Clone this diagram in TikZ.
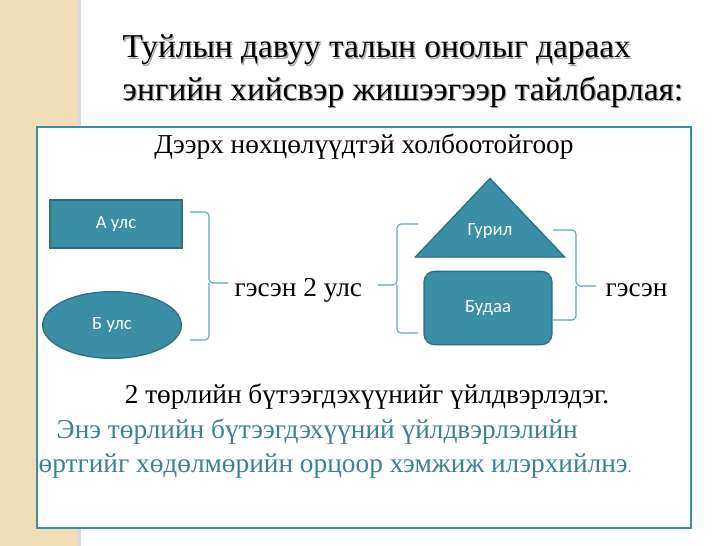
\documentclass[tikz,border=0pt]{standalone}
\usepackage{fontspec}
\setmainfont{Liberation Serif}
\newfontfamily\boxfont{Carlito}
\usetikzlibrary{shapes.geometric,positioning}
\definecolor{tealfill}{HTML}{3A8FA6}
\definecolor{tealedge}{HTML}{2F6F80}
\definecolor{tealtext}{HTML}{3A8290}
\definecolor{beige}{HTML}{F1DEB8}
\tikzset{
  shapebox/.style={fill=tealfill, draw=tealedge, line width=1pt, text=white, font=\boxfont\fontsize{14}{16}\selectfont},
  bracket/.style={draw=tealfill!80, line width=0.8pt, rounded corners=3pt},
  body/.style={font=\fontsize{20.5}{24}\selectfont},
}
\begin{document}
\begin{tikzpicture}[x=0.75pt,y=-0.75pt]
  \useasboundingbox (0,0) rectangle (728,546);
  % background strip and frame
  \fill[beige] (0,0) rectangle (80,546);
  \fill[black!15] (78,0) rectangle (81,546);
  \fill[white] (37,127) rectangle (691,528);
  \draw[tealfill, line width=1.5pt] (37,127) rectangle (691,528);

  % title with shadow
  \foreach \dx/\col in {1.2/black!35, 0/black} {
    \node[anchor=west, text=\col, font=\fontsize{25}{30}\selectfont] at (118+\dx,50+\dx) {Туйлын давуу талын онолыг дараах};
    \node[anchor=west, text=\col, font=\fontsize{25}{30}\selectfont] at (118+\dx,92+\dx) {энгийн хийсвэр жишээгээр тайлбарлая:};
  }

  \node[body] (cond) at (364,147) {Дээрх нөхцөлүүдтэй холбоотойгоор};

  % left group
  \node[shapebox, minimum width=99pt, minimum height=36pt] (countryA) at (116,224) {А улс};
  \node[shapebox, ellipse, minimum width=104pt, minimum height=50pt, inner sep=0pt] (countryB) at (112,325) {Б улс};
  \draw[bracket] (190,212) -- (209,212) -- (209,283) -- (228,283);
  \draw[bracket] (209,283) -- (209,340) -- (190,340);
  \node[body, anchor=west] (twoc) at (230,290) {гэсэн 2 улс};

  % right group
  \node[shapebox, isosceles triangle, shape border rotate=90, isosceles triangle apex angle=87,
        minimum width=112pt, minimum height=59pt, inner sep=0pt] (flour) at (490,225) {};
  \node[text=white, font=\boxfont\fontsize{14}{16}\selectfont] at (490,231) {Гурил};
  \node[shapebox, rounded corners=8pt, minimum width=96pt, minimum height=55pt] (grain) at (488,308) {Будаа};
  \draw[bracket] (418,224) -- (397,224) -- (397,285) -- (378,285);
  \draw[bracket] (397,285) -- (397,333) -- (418,333);
  \draw[bracket] (553,230) -- (576,230) -- (576,286) -- (596,286);
  \draw[bracket] (576,286) -- (576,320) -- (553,320);
  \node[body, anchor=west] (said) at (601,290) {гэсэн};

  % bottom text
  \node[body] (kinds) at (367,397) {2 төрлийн бүтээгдэхүүнийг үйлдвэрлэдэг.};
  \node[body, anchor=west, text=tealtext] (line1) at (52,432) {Энэ төрлийн бүтээгдэхүүний үйлдвэрлэлийн};
  \node[body, anchor=west, text=tealtext] (line2) at (34,466) {өртгийг хөдөлмөрийн орцоор хэмжиж илэрхийлнэ{\fontsize{12}{14}\selectfont .}};
\end{tikzpicture}
\end{document}
